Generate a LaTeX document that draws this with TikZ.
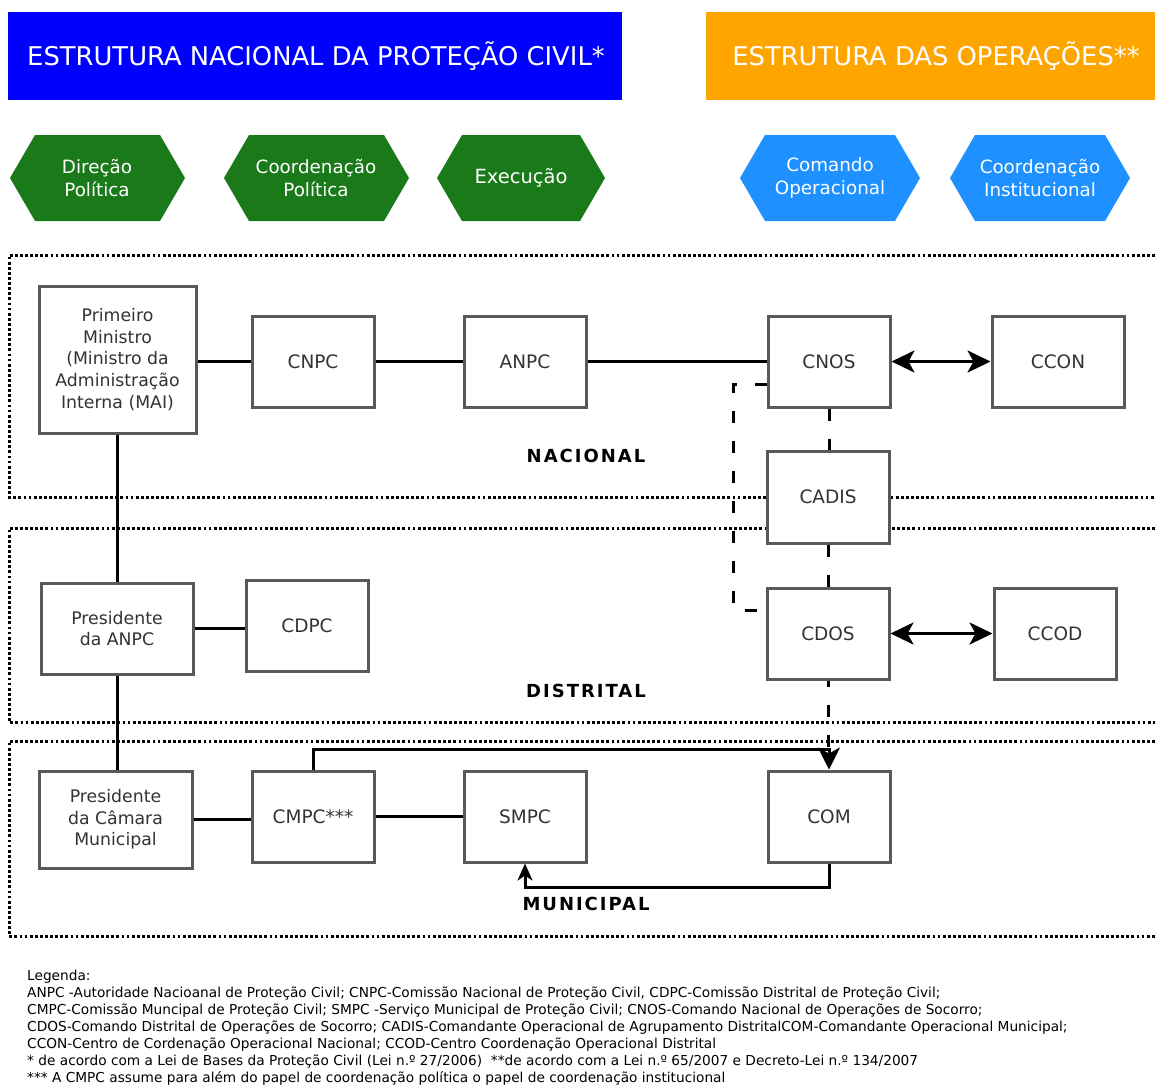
\documentclass[tikz,border=0pt]{standalone}
\usepackage{fontspec}
\setmainfont{DejaVu Sans}
\usetikzlibrary{arrows.meta}
\definecolor{hexgreen}{RGB}{26,122,26}
\definecolor{hexblue}{RGB}{30,144,255}
\definecolor{hdrblue}{RGB}{0,0,255}
\definecolor{hdrorange}{RGB}{255,165,0}
\definecolor{boxgray}{RGB}{89,89,89}
\definecolor{txtgray}{RGB}{51,51,51}
\begin{document}
\begin{tikzpicture}[x=1pt,y=-1pt,
 box/.style={draw=boxgray, line width=3pt, fill=white, text=txtgray,
   font=\fontsize{17.3}{21.7}\selectfont, align=center, inner sep=0pt},
 acr/.style={box, font=\fontsize{18.5}{22}\selectfont},
 conn/.style={line width=3pt, draw=black},
 dsh/.style={line width=3pt, draw=black, dash pattern=on 12pt off 18pt},
 dotframe/.style={line width=3pt, draw=black, dash pattern=on 2.8pt off 2.3pt},
 hexlbl/.style={text=white, font=\fontsize{18.3}{23.5}\selectfont, align=center, inner sep=0pt},
 hdr/.style={text=white, font=\fontsize{25.8}{28}\selectfont, inner sep=0pt},
 lvl/.style={font=\bfseries\fontsize{18}{20}\selectfont\addfontfeature{LetterSpace=11}, inner sep=0pt},
 tipped/.style={-{Stealth[length=22pt,width=22pt,inset=6pt]}},
 smalltip/.style={-{Stealth[length=17pt,width=15pt,inset=5pt]}},
 twotip/.style={{Stealth[length=23pt,width=22pt,inset=6pt]}-{Stealth[length=23pt,width=22pt,inset=6pt]}}
]
\useasboundingbox[fill=white] (0,0) rectangle (1155,1088);

% headers
\fill[hdrblue] (8,12) rectangle (622,100);
\node[hdr] (hdrA) at (316,56) {ESTRUTURA NACIONAL DA PROTEÇÃO CIVIL*};
\fill[hdrorange] (706,12) rectangle (1155,100);
\node[hdr] (hdrB) at (936,56) {ESTRUTURA DAS OPERAÇÕES**};

% hexagons
\fill[hexgreen] (10,178) -- (35,135) -- (160,135) -- (185,178) -- (160,221) -- (35,221) -- cycle;
\node[hexlbl] (hex1) at (97,178) {Direção\\Política};
\fill[hexgreen] (224,178) -- (249,135) -- (384,135) -- (409,178) -- (384,221) -- (249,221) -- cycle;
\node[hexlbl] (hex2) at (316,178) {Coordenação\\Política};
\fill[hexgreen] (437,178) -- (462,135) -- (580,135) -- (605,178) -- (580,221) -- (462,221) -- cycle;
\node[hexlbl, font=\fontsize{19.5}{23.5}\selectfont] (hex3) at (521,178) {Execução};
\fill[hexblue] (740,178) -- (765,135) -- (895,135) -- (920,178) -- (895,221) -- (765,221) -- cycle;
\node[hexlbl] (hex4) at (830,178) {Comando\\Operacional};
\fill[hexblue] (950,178) -- (975,135) -- (1105,135) -- (1130,178) -- (1105,221) -- (975,221) -- cycle;
\node[hexlbl] (hex5) at (1040,178) {Coordenação\\Institucional};

% dotted level frames
\draw[dotframe] (1160,255) -- (9,255) -- (9,497) -- (1160,497);
\draw[dotframe] (1160,528) -- (9,528) -- (9,722) -- (1160,722);
\draw[dotframe] (1160,741) -- (9,741) -- (9,936) -- (1160,936);

% level labels
\node[lvl] (lvN) at (586,456) {NACIONAL};
\node[lvl] (lvD) at (586,691) {DISTRITAL};
\node[lvl] (lvM) at (586,904) {MUNICIPAL};

% boxes
\node[box, minimum width=157pt, minimum height=147pt] (PM) at (117.5,359.5)
  {Primeiro\\Ministro\\(Ministro da\\Administração\\Interna (MAI)};
\node[acr, minimum width=122pt, minimum height=91pt] (CNPC) at (313,361.5) {CNPC};
\node[acr, minimum width=122pt, minimum height=91pt] (ANPC) at (525,361.5) {ANPC};
\node[acr, minimum width=122pt, minimum height=91pt] (CNOS) at (829,361.5) {CNOS};
\node[acr, minimum width=132pt, minimum height=91pt] (CCON) at (1058,361.5) {CCON};
\node[acr, minimum width=122pt, minimum height=92pt] (CADIS) at (828,497) {CADIS};
\node[box, minimum width=152pt, minimum height=91pt] (PANPC) at (117,628.5) {Presidente\\da ANPC};
\node[acr, minimum width=122pt, minimum height=91pt] (CDPC) at (307,625.5) {CDPC};
\node[acr, minimum width=122pt, minimum height=91pt] (CDOS) at (828,633.5) {CDOS};
\node[acr, minimum width=122pt, minimum height=91pt] (CCOD) at (1055,633.5) {CCOD};
\node[box, minimum width=153pt, minimum height=97pt] (PCM) at (115.5,819.5) {Presidente\\da Câmara\\Municipal};
\node[acr, minimum width=122pt, minimum height=91pt] (CMPC) at (313,816.5) {CMPC***};
\node[acr, minimum width=122pt, minimum height=91pt] (SMPC) at (525,816.5) {SMPC};
\node[acr, minimum width=122pt, minimum height=91pt] (COM) at (829,816.5) {COM};

\coordinate (topbend) at (829,749);

% solid connectors
\draw[conn] (CNPC.west -| PM.east) -- (CNPC.west);
\draw[conn] (CNPC) -- (ANPC);
\draw[conn] (ANPC) -- (CNOS);
\draw[conn, twotip] (CNOS) -- (CCON);
\draw[conn, twotip] (CDOS) -- (CCOD);
\draw[conn] (PM.south) -- (PM.south |- PANPC.north);
\draw[conn] (PANPC.south) -- (PANPC.south |- PCM.north);
\draw[conn] (PANPC.east) -- (PANPC.east -| CDPC.west);
\draw[conn] (PCM.east) -- (PCM.east -| CMPC.west);
\draw[conn] (CMPC) -- (SMPC);
\draw[conn, tipped] (CMPC.north) |- (topbend) -- (COM.north);
\draw[conn, smalltip] (COM.south) -- ++(0,24) -| (SMPC.south);

% dashed connectors
\draw[dsh] (CNOS.south) -- (CNOS.south |- CADIS.north);
\draw[dsh] (CADIS.south) -- (CADIS.south |- CDOS.north);
\draw[dsh] ([yshift=-22.5pt]CNOS.west) -- ++(-33,0) |- ([yshift=23.5pt]CDOS.west);
\draw[dsh, dash phase=6pt] (CDOS.south) -- (CDOS.south |- topbend);

% legend
\node[anchor=north west, align=left, inner sep=0pt, text=black,
  font=\fontsize{13.7}{17}\selectfont] (legend) at (27,970)
 {Legenda:\\
 ANPC -Autoridade Nacioanal de Proteção Civil; CNPC-Comissão Nacional de Proteção Civil, CDPC-Comissão Distrital de Proteção Civil;\\
 CMPC-Comissão Muncipal de Proteção Civil; SMPC -Serviço Municipal de Proteção Civil; CNOS-Comando Nacional de Operações de Socorro;\\
 CDOS-Comando Distrital de Operações de Socorro; CADIS-Comandante Operacional de Agrupamento DistritalCOM-Comandante Operacional Municipal;\\
 CCON-Centro de Cordenação Operacional Nacional; CCOD-Centro Coordenação Operacional Distrital\\
 * de acordo com a Lei de Bases da Proteção Civil (Lei n.º 27/2006)\ \ **de acordo com a Lei n.º 65/2007 e Decreto-Lei n.º 134/2007\\
 *** A CMPC assume para além do papel de coordenação política o papel de coordenação institucional};
\end{tikzpicture}
\end{document}
